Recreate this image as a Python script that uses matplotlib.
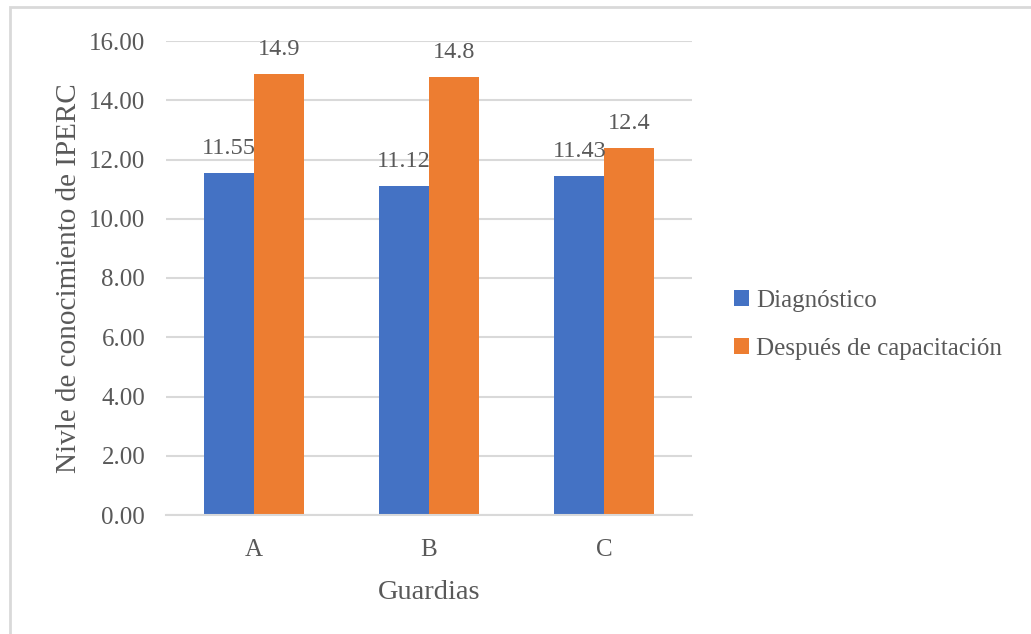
import numpy as np
import matplotlib.pyplot as plt
from matplotlib.patches import Rectangle

guardias = ["A", "B", "C"]
diagnostico = [11.55, 11.12, 11.43]
despues = [14.9, 14.8, 12.4]
etiquetas_diag = ["11.55", "11.12", "11.43"]
etiquetas_desp = ["14.9", "14.8", "12.4"]
series = ["Diagnóstico", "Después de capacitación"]

AZUL = "#4472C4"
NARANJA = "#ED7D31"
GRIS = "#595959"
REJILLA = "#D9D9D9"

plt.rcParams["font.family"] = ["Liberation Serif", "DejaVu Serif"]

fig = plt.figure(figsize=(10.31, 6.34), dpi=100)
ax = fig.add_axes([166 / 1031, 1 - 515 / 634, 526 / 1031, 474 / 634])

x = np.arange(len(guardias))
ancho = 0.285
b1 = ax.bar(x - ancho / 2, diagnostico, ancho, color=AZUL, label=series[0], zorder=2)
b2 = ax.bar(x + ancho / 2, despues, ancho, color=NARANJA, label=series[1], zorder=2)

for barras, textos in ((b1, etiquetas_diag), (b2, etiquetas_desp)):
    for b, t in zip(barras, textos):
        ax.annotate(t, (b.get_x() + b.get_width() / 2, b.get_height()),
                    xytext=(0, 10), textcoords="offset points",
                    ha="center", va="bottom", fontsize=17.5, color=GRIS)

ax.set_xlim(-0.5, 2.5)
ax.set_ylim(0, 16)
ax.set_yticks(np.arange(0, 17, 2))
ax.set_yticklabels([f"{v:.2f}" for v in np.arange(0, 17, 2)])
ax.set_xticks(x)
ax.set_xticklabels(guardias)
ax.tick_params(axis="both", length=0, labelsize=18, labelcolor=GRIS)
ax.tick_params(axis="y", pad=15)
ax.tick_params(axis="x", pad=17)
ax.grid(axis="y", color=REJILLA, linewidth=1.5, zorder=0)
for s in ("top", "right", "left"):
    ax.spines[s].set_visible(False)
ax.spines["bottom"].set_color(REJILLA)
ax.spines["bottom"].set_linewidth(1.5)

ax.set_ylabel("Nivle de conocimiento de IPERC", fontsize=21, color=GRIS, labelpad=5)
ax.set_xlabel("Guardias", fontsize=20.5, color=GRIS, labelpad=14)

leg = fig.legend(loc="center left", bbox_to_anchor=(724 / 1031, 1 - 325 / 634),
                 frameon=False, fontsize=18, handlelength=0.6, handleheight=0.6,
                 handletextpad=0.3, labelspacing=1.05, borderaxespad=0)
for t in leg.get_texts():
    t.set_color(GRIS)

# marco del gráfico (solo bordes superior e izquierdo visibles)
fig.add_artist(Rectangle((10 / 1031, -0.05), 1.2, 1 - 7 / 634 + 0.05,
                         transform=fig.transFigure, fill=False,
                         edgecolor="#D9D9D9", linewidth=2))

fig.savefig("out.png", dpi=100)
